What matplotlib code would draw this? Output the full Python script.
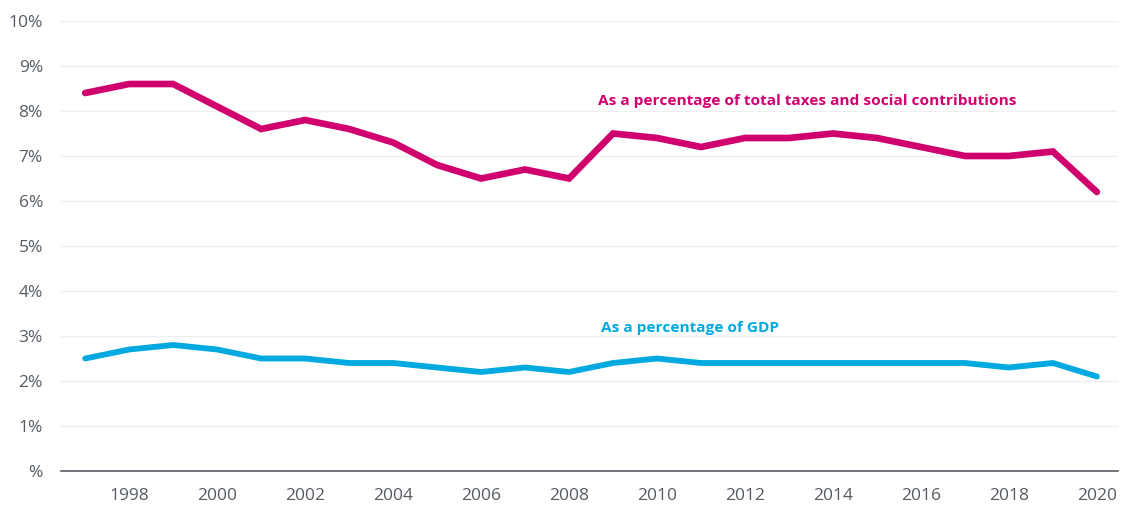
import matplotlib
matplotlib.use('Agg')
import matplotlib.pyplot as plt
from matplotlib.ticker import FuncFormatter

years = list(range(1997, 2021))
share_taxes = [8.4, 8.6, 8.6, 8.1, 7.6, 7.8, 7.6, 7.3, 6.8, 6.5, 6.7, 6.5,
               7.5, 7.4, 7.2, 7.4, 7.4, 7.5, 7.4, 7.2, 7.0, 7.0, 7.1, 6.2]
share_gdp = [2.5, 2.7, 2.8, 2.7, 2.5, 2.5, 2.4, 2.4, 2.3, 2.2, 2.3, 2.2,
             2.4, 2.5, 2.4, 2.4, 2.4, 2.4, 2.4, 2.4, 2.4, 2.3, 2.4, 2.1]
x_ticks = list(range(1998, 2021, 2))
y_ticks = list(range(0, 11))

pink = '#d1006f'
blue = '#00a9e0'
grey = '#555c63'

plt.rcParams['font.family'] = ['Open Sans', 'DejaVu Sans']

fig = plt.figure(figsize=(11.23, 5.07), dpi=100)
ax = fig.add_axes([61/1123, 36/507, (1118-61)/1123, 450/507])

ax.plot(years, share_taxes, color=pink, lw=4.8, solid_capstyle='round', solid_joinstyle='miter')
ax.plot(years, share_gdp, color=blue, lw=4.2, solid_capstyle='round', solid_joinstyle='miter')

ax.text(2008.66, 8.22, 'As a percentage of total taxes and social contributions',
        color=pink, fontsize=11.1, fontweight='bold', va='center', ha='left')
ax.text(2008.73, 3.18, 'As a percentage of GDP',
        color=blue, fontsize=11.1, fontweight='bold', va='center', ha='left')

ax.set_xlim(1996.45, 2020.48)
ax.set_ylim(0, 10)
ax.set_xticks(x_ticks)
ax.set_yticks(y_ticks)
ax.yaxis.set_major_formatter(FuncFormatter(lambda v, p: '%' if v == 0 else f'{int(v)}%'))
ax.grid(axis='y', color='#efefef', lw=1)
ax.set_axisbelow(True)
for s in ['top', 'right', 'left']:
    ax.spines[s].set_visible(False)
ax.spines['bottom'].set_color(grey)
ax.spines['bottom'].set_linewidth(1.2)
ax.tick_params(axis='both', length=0, labelsize=12.5, labelcolor=grey)
ax.tick_params(axis='x', pad=12)
ax.tick_params(axis='y', pad=13)

plt.savefig('out.png', dpi=100)
